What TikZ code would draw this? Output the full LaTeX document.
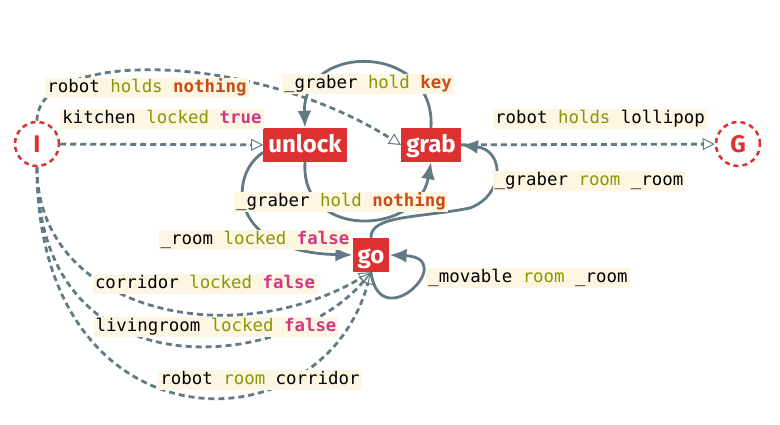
\documentclass[tikz,border=0pt]{standalone}
\usepackage{fontspec}
\setsansfont{Fira Sans}
\setmonofont{DejaVu Sans Mono}
\usetikzlibrary{arrows.meta}
\definecolor{actred}{HTML}{DC3130}
\definecolor{edgegray}{HTML}{627A84}
\definecolor{labelbg}{HTML}{FDF6E3}
\definecolor{predgreen}{HTML}{859900}
\definecolor{boolpink}{HTML}{D33682}
\definecolor{objorange}{HTML}{CB4B16}
\newcommand{\pred}[1]{\textcolor{predgreen}{#1}}
\newcommand{\boolv}[1]{\textcolor{boolpink}{\textbf{#1}}}
\newcommand{\objv}[1]{\textcolor{objorange}{\textbf{#1}}}

\begin{document}
\begin{tikzpicture}[x=1pt, y=-1pt,
                    action/.style={fill=actred, text=white, font=\sffamily\bfseries\fontsize{24}{24}\selectfont,
                                   inner xsep=5pt, minimum height=34pt, text height=20pt, text depth=4pt},
                    terminal/.style={circle, draw=actred, dash pattern=on 5pt off 4pt, line width=2.5pt,
                                     minimum size=44pt, inner sep=0pt, text=actred,
                                     font=\sffamily\bfseries\fontsize{24}{24}\selectfont},
                    cond/.style={fill=labelbg, font=\ttfamily\fontsize{17.4}{20}\selectfont,
                                 inner xsep=2pt, inner ysep=1.5pt, text height=13pt, text depth=4pt},
                    trans/.style={draw=edgegray, line width=2.8pt, -{Latex[length=17pt,width=14pt]}},
                    precond/.style={draw=edgegray, line width=2.8pt, dash pattern=on 6pt off 4pt,
                                    -{Triangle[open,length=12pt,width=12pt,line width=1pt]}}]
    \useasboundingbox (0,0) rectangle (780,425);
    % states and actions
    \node[terminal] (I) at (37,144) {I};
    \node[terminal] (G) at (738,144) {G};
    \node[action] (unlock) at (305,145) {unlock};
    \node[action] (grab) at (431,145) {grab};
    \node[action] (go) at (371,255) {go};
    \coordinate (bend) at (470,208);

    % transitions
    \draw[trans] (grab.north) .. controls (436,42) and (302,42) .. (unlock.north);
    \draw[trans] (unlock.south) .. controls (300,240) and (418,236) .. (grab.south);
    \draw[trans] (unlock.190) .. controls (228,175) and (228,252) .. (go.west);
    \draw[trans] (go.north) .. controls (370,215) and (420,218) .. (bend)
                            .. controls (505,195) and (505,150) .. (grab.east);
    \draw[trans] (go.south) .. controls (380,338) and (460,258) .. (go.east);

    % preconditions
    \draw[precond] (I) -- (unlock);
    \draw[precond] (I.north) .. controls (37,50) and (250,50) .. (grab.west);
    \draw[precond] (grab) -- (G);
    \draw[precond] (I.south) .. controls (37,310) and (230,355) .. (go.south);
    \draw[precond] (I.south) .. controls (37,400) and (290,370) .. (go.south);
    \draw[precond] (I.south) .. controls (37,450) and (320,455) .. (go.south);

    % labels
    \node[cond] (hkey) at (368,84) {\_graber \pred{hold} \objv{key}};
    \node[cond] (hnothing) at (341,202) {\_graber \pred{hold} \objv{nothing}};
    \node[cond] (rlocked) at (255,240) {\_room \pred{locked} \boolv{false}};
    \node[cond] (groom) at (589,181) {\_graber \pred{room} \_room};
    \node[cond] (mroom) at (528,278) {\_movable \pred{room} \_room};
    \node[cond] (rnothing) at (147,88) {robot \pred{holds} \objv{nothing}};
    \node[cond] (klocked) at (162,119) {kitchen \pred{locked} \boolv{true}};
    \node[cond] (lollipop) at (600,119) {robot \pred{holds} lollipop};
    \node[cond] (clocked) at (205,284) {corridor \pred{locked} \boolv{false}};
    \node[cond] (llocked) at (216,327) {livingroom \pred{locked} \boolv{false}};
    \node[cond] (rcorridor) at (260,380) {robot \pred{room} corridor};
\end{tikzpicture}
\end{document}
